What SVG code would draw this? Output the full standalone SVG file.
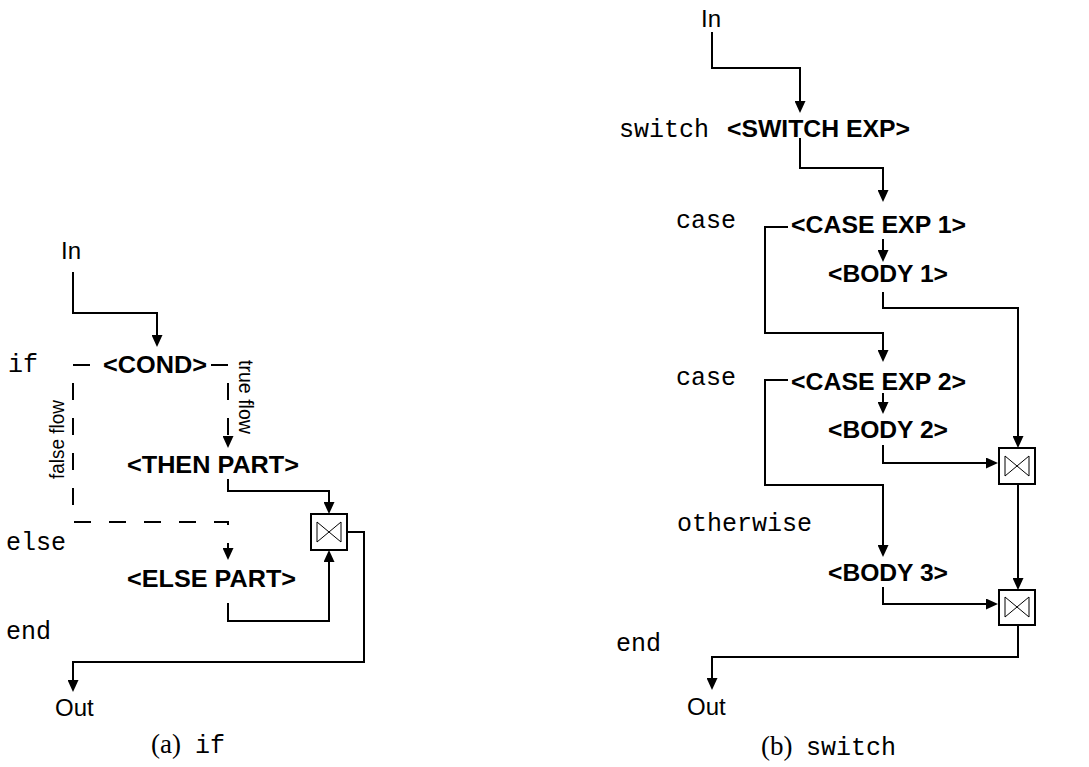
<svg xmlns="http://www.w3.org/2000/svg" width="1089" height="767" viewBox="0 0 1089 767">
<style>
.bold{font-family:"Liberation Sans",Arial,sans-serif;font-weight:bold;font-size:24px;fill:#000}
.reg{font-family:"Liberation Sans",Arial,sans-serif;font-size:24px;fill:#000}
.rot{font-family:"Liberation Sans",Arial,sans-serif;font-size:20px;fill:#000}
.mono{font-family:"Liberation Mono","Courier New",monospace;font-size:25px;fill:#000}
.serif{font-family:"Liberation Serif","Times New Roman",serif;font-size:27px;fill:#000}
.conn{fill:none;stroke:#000;stroke-width:2;marker-end:url(#arr)}
.dash{fill:none;stroke:#000;stroke-width:2;stroke-dasharray:17 18;marker-end:url(#arr)}
.box{fill:#fff;stroke:#000;stroke-width:2}
.tie{fill:none;stroke:#000;stroke-width:1}
</style>
<defs>
<marker id="arr" markerUnits="userSpaceOnUse" markerWidth="12" markerHeight="11" viewBox="0 0 12 11" refX="9" refY="5.5" orient="auto">
<path d="M0,0 L12,5.5 L0,11 z" fill="#000"/>
</marker>
</defs>
<rect width="1089" height="767" fill="#fff"/>

<g id="connectors">
<path class="conn" d="M73,272 V313 H157 V344"/>
<path class="dash" d="M93,365 H73 V522 H228 V557" stroke-dashoffset="-3"/>
<path class="dash" d="M211,365 H228 V445"/>
<path class="conn" d="M228,479 V491 H329 V511"/>
<path class="conn" d="M228,603 V621 H329 V553"/>
<path class="conn" d="M347,532 H364 V662 H73 V689"/>

<path class="conn" d="M712,32 V68 H800 V110"/>
<path class="conn" d="M800,138 V168 H883 V199"/>
<path class="conn" d="M883,239 V259"/>
<path class="conn" d="M788,227 H765 V333 H883 V359"/>
<path class="conn" d="M883,292 V308 H1018 V445"/>
<path class="conn" d="M883,393 V411"/>
<path class="conn" d="M788,380 H765 V485 H883 V554"/>
<path class="conn" d="M883,445 V463 H995"/>
<path class="conn" d="M1018,484 V587"/>
<path class="conn" d="M883,587 V604 H995"/>
<path class="conn" d="M1018,625 V657 H712 V687"/>
</g>

<g id="a-in"><text class="reg" x="61" y="259">In</text></g>
<g id="a-if"><text class="mono" x="8" y="372">if</text></g>
<g id="a-cond"><text class="bold" x="103" y="373" textLength="104" lengthAdjust="spacingAndGlyphs">&lt;COND&gt;</text></g>
<g id="a-trueflow"><text class="rot" transform="translate(239,360) rotate(90)" textLength="74" lengthAdjust="spacingAndGlyphs">true flow</text></g>
<g id="a-falseflow"><text class="rot" transform="translate(64,479) rotate(-90)" textLength="79" lengthAdjust="spacingAndGlyphs">false flow</text></g>
<g id="a-then"><text class="bold" x="127" y="473" textLength="172" lengthAdjust="spacingAndGlyphs">&lt;THEN PART&gt;</text></g>
<g id="a-else-kw"><text class="mono" x="6" y="550">else</text></g>
<g id="a-else"><text class="bold" x="127" y="587" textLength="169" lengthAdjust="spacingAndGlyphs">&lt;ELSE PART&gt;</text></g>
<g id="a-end"><text class="mono" x="6" y="639">end</text></g>
<g id="a-merge"><rect class="box" x="311" y="514" width="36" height="36"/><path class="tie" d="M317,522 L341,542 L341,522 L317,542 Z"/></g>
<g id="a-out"><text class="reg" x="55" y="716">Out</text></g>
<g id="a-caption"><text class="serif" x="151" y="753">(a)</text><text class="mono" x="195" y="753">if</text></g>

<g id="b-in"><text class="reg" x="701" y="27">In</text></g>
<g id="b-switch-kw"><text class="mono" x="619" y="137">switch</text></g>
<g id="b-switch"><text class="bold" x="727" y="137" textLength="183" lengthAdjust="spacingAndGlyphs">&lt;SWITCH EXP&gt;</text></g>
<g id="b-case1-kw"><text class="mono" x="676" y="228">case</text></g>
<g id="b-case1"><text class="bold" x="791" y="233" textLength="175" lengthAdjust="spacingAndGlyphs">&lt;CASE EXP 1&gt;</text></g>
<g id="b-body1"><text class="bold" x="828" y="282" textLength="120" lengthAdjust="spacingAndGlyphs">&lt;BODY 1&gt;</text></g>
<g id="b-case2-kw"><text class="mono" x="676" y="385">case</text></g>
<g id="b-case2"><text class="bold" x="791" y="390" textLength="175" lengthAdjust="spacingAndGlyphs">&lt;CASE EXP 2&gt;</text></g>
<g id="b-body2"><text class="bold" x="828" y="438" textLength="120" lengthAdjust="spacingAndGlyphs">&lt;BODY 2&gt;</text></g>
<g id="b-merge1"><rect class="box" x="999" y="448" width="36" height="36"/><path class="tie" d="M1005,456 L1029,476 L1029,456 L1005,476 Z"/></g>
<g id="b-otherwise"><text class="mono" x="677" y="531">otherwise</text></g>
<g id="b-body3"><text class="bold" x="828" y="581" textLength="120" lengthAdjust="spacingAndGlyphs">&lt;BODY 3&gt;</text></g>
<g id="b-merge2"><rect class="box" x="999" y="590" width="36" height="35"/><path class="tie" d="M1005,597 L1029,617 L1029,597 L1005,617 Z"/></g>
<g id="b-end"><text class="mono" x="616" y="651">end</text></g>
<g id="b-out"><text class="reg" x="687" y="715">Out</text></g>
<g id="b-caption"><text class="serif" x="761" y="755">(b)</text><text class="mono" x="806" y="755">switch</text></g>
</svg>
